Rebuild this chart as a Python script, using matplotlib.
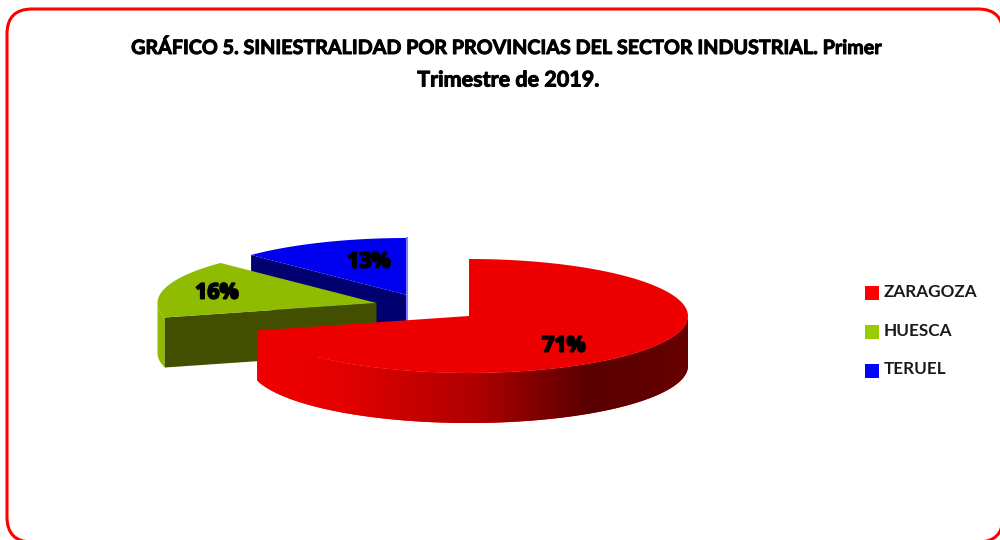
import numpy as np
import matplotlib
matplotlib.use('Agg')
import matplotlib.pyplot as plt
import matplotlib.patheffects as pe
from matplotlib.colors import LinearSegmentedColormap
from matplotlib.patches import FancyBboxPatch, Polygon, Rectangle

# data, the slices are a bit off the rounded labels
provinces = ['ZARAGOZA', 'HUESCA', 'TERUEL']
shares = [70.9, 16.49, 12.61]
title_lines = ['GRÁFICO 5. SINIESTRALIDAD POR PROVINCIAS DEL SECTOR INDUSTRIAL. Primer',
               'Trimestre de 2019.']

legend_colors = ['#ff0000', '#99cc00', '#0000ff']
top_colors = ['#ee0000', '#8fbc00', '#0000f0']
face_colors = ['#ee0000', '#434f00', '#000070']

# exploded pie centres and the squashed ellipse, in pixels
centers = [(469, 316), (376.5, 303), (407, 295)]
label_pos = [(564, 346), (217, 293), (369, 262)]
legend_y = [293, 332, 370.5]
rx, ry, depth = 219, 57, 50


def rim(center, t):
    # t is degrees clockwise from 12 o'clock
    t = np.radians(t)
    return np.column_stack([center[0] + rx * np.sin(t), center[1] - ry * np.cos(t)])


fig = plt.figure(figsize=(10, 5.4), dpi=100)
ax = fig.add_axes([0, 0, 1, 1])
ax.axis('off')

# slice limits from the values
limits = np.concatenate([[0], np.cumsum(shares)]) * 360 / sum(shares)

# frame, runs off the right and bottom of the picture
ax.add_patch(FancyBboxPatch((32, 34), 946, 483, boxstyle='round,pad=25,rounding_size=25',
                            fc='white', ec='#ff0000', lw=2.2, clip_on=False))

# blue and green first, red sits in front of them
for i in [2, 1, 0]:
    c = centers[i]
    t0, t1 = limits[i], limits[i + 1]
    arc = rim(c, np.linspace(t0, t1, 120))
    z = 3 + (2 - i) * 2

    # outer side
    side_t = np.linspace(max(t0, 90), min(t1, 270), 160)
    if side_t[-1] > side_t[0]:
        edge = rim(c, side_t)
        outline = np.vstack([edge, (edge + [0, depth])[::-1]])
        side = Polygon(outline, closed=True, fc=top_colors[i], ec='none', zorder=z)
        ax.add_patch(side)
        if i == 0:
            stops = [(0.0, '#f00000'), (0.19, '#e40000'), (0.51, '#ae0000'),
                     (0.77, '#5a0000'), (1.0, '#660000')]
            cmap = LinearSegmentedColormap.from_list('side', stops)
            img = ax.imshow(np.linspace(0, 1, 256).reshape(1, -1), cmap=cmap, aspect='auto',
                            extent=(outline[:, 0].min(), outline[:, 0].max(),
                                    outline[:, 1].max(), outline[:, 1].min()), zorder=z)
            img.set_clip_path(side)

    # cut face running from the rim to the centre
    if i > 0:
        start = rim(c, t0)[0]
        face = [start, c, (c[0], c[1] + depth), start + [0, depth]]
        ax.add_patch(Polygon(face, closed=True, fc=face_colors[i], ec='none', zorder=z + 0.5))

    # top
    ax.add_patch(Polygon(np.vstack([arc, c]), closed=True, fc=top_colors[i], ec='none', zorder=z + 1))

    ax.text(label_pos[i][0], label_pos[i][1], f'{shares[i]:.0f}%', ha='center', va='center',
            fontsize=15.3, fontweight='bold', family='Open Sans', color='black', zorder=12,
            path_effects=[pe.withStroke(linewidth=1.4, foreground='black')])

# thin light edge on the blue slice
ax.plot([407, 407], [centers[2][1] - ry, centers[2][1] + depth - 25], color='#8080ff', lw=1.5, zorder=4.5)

# title
ax.text(508, 48, title_lines[0], ha='center', va='center', fontsize=14.2, fontweight='bold',
        family='Lato', color='black', path_effects=[pe.withStroke(linewidth=0.7, foreground='black')])
ax.text(508, 80, title_lines[1], ha='center', va='center', fontsize=15.5, fontweight='bold',
        family='Lato', color='black', path_effects=[pe.withStroke(linewidth=0.7, foreground='black')])

# legend
for name, col, y in zip(provinces, legend_colors, legend_y):
    ax.add_patch(Rectangle((865, y - 7), 14, 14, fc=col, ec='none'))
    ax.text(884, y - 1, name, ha='left', va='center', fontsize=12.3, fontweight='bold',
            family='Lato', color='#1a1a1a')

ax.set_xlim(0, 1000)
ax.set_ylim(540, 0)

fig.savefig('out.png', dpi=100, facecolor='white')
